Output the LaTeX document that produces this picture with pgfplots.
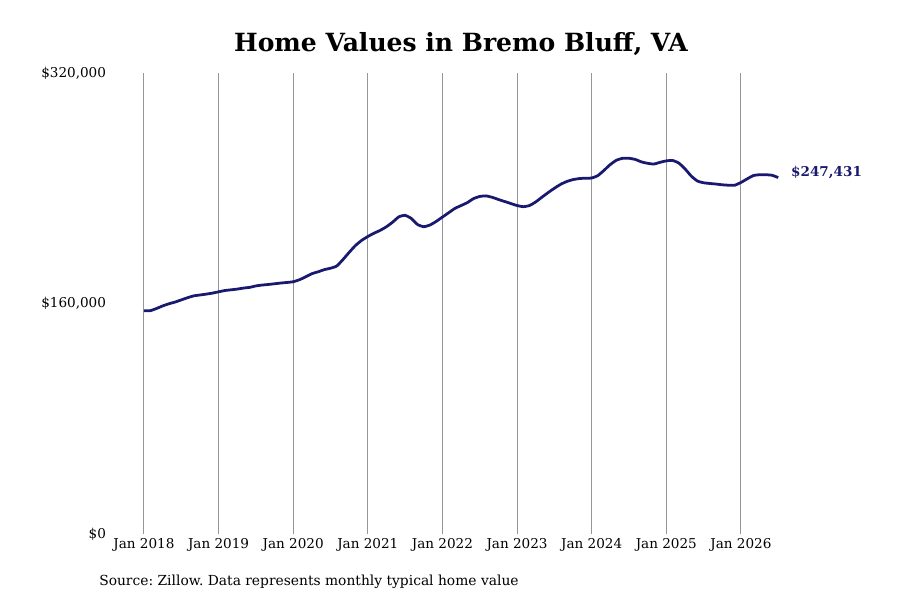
\documentclass[border=0pt]{standalone}
\usepackage{pgfplots}
\pgfplotsset{compat=1.18}
\usepackage{fontspec}
\setmainfont{DejaVu Serif}
\definecolor{navyline}{RGB}{25,25,112}
\definecolor{gridgray}{RGB}{150,150,150}

\begin{document}
\frenchspacing
\begin{tikzpicture}[x=1in,y=1in]
\path[use as bounding box] (0,0) rectangle (9,6);
\node[font=\fontsize{18.1}{21}\selectfont\bfseries] at (4.61,5.56) {Home Values in Bremo Bluff, VA};
\node[anchor=west,font=\fontsize{10}{12}\selectfont,inner sep=0pt] at (0.99,0.18) {Source: Zillow. Data represents monthly typical home value};
\begin{axis}[
  at={(1.15in,0.66in)},
  anchor=south west,
  scale only axis,
  width=6.85in,
  height=4.61in,
  xmin=-4.66, xmax=105.5,
  ymin=0, ymax=320000,
  scaled y ticks=false,
  axis line style={draw=none},
  tick style={draw=none},
  xmajorgrids,
  grid style={gridgray,line width=0.7pt},
  xtick={0,12,24,36,48,60,72,84,96},
  xticklabels={Jan 2018,Jan 2019,Jan 2020,Jan 2021,Jan 2022,Jan 2023,Jan 2024,Jan 2025,Jan 2026},
  ytick={0,160000,320000},
  yticklabels={{\$0},{\$160,000},{\$320,000}},
  tick label style={font=\fontsize{9.8}{12}\selectfont},
  yticklabel style={xshift=-3pt},
  clip=false,
]
\addplot[navyline, line width=2pt, smooth, tension=0.3] coordinates {
(0,155000) (1,155000) (2,156500) (3,158300) (4,159800) (5,161000) (6,162500) (7,164000)
(8,165300) (9,165900) (10,166500) (11,167200) (12,168100) (13,169000) (14,169500) (15,170000)
(16,170700) (17,171200) (18,172200) (19,172800) (20,173200) (21,173700) (22,174200) (23,174600)
(24,175100) (25,176500) (26,178500) (27,180700) (28,182000) (29,183500) (30,184500) (31,186000)
(32,190500) (33,195500) (34,200200) (35,203800) (36,206500) (37,208800) (38,210800) (39,213300)
(40,216500) (41,220200) (42,221200) (43,219000) (44,214800) (45,213300) (46,214500) (47,217000)
(48,220000) (49,223000) (50,226000) (51,228000) (52,230000) (53,232800) (54,234300) (55,234700)
(56,233700) (57,232200) (58,230800) (59,229400) (60,228000) (61,227200) (62,228000) (63,230500)
(64,233800) (65,237000) (66,240000) (67,242700) (68,244700) (69,246000) (70,246700) (71,247000)
(72,247100) (73,248800) (74,252500) (75,256500) (76,259500) (77,260800) (78,260800) (79,260000)
(80,258300) (81,257300) (82,256800) (83,258000) (84,259000) (85,259300) (86,257500) (87,253500)
(88,248500) (89,245000) (90,243800) (91,243300) (92,242900) (93,242400) (94,242100) (95,242100)
(96,244000) (97,246500) (98,248800) (99,249400) (100,249400) (101,249000) (102,247431)
} node[pos=1,anchor=west,xshift=5pt,yshift=3.6pt,text=navyline,font=\fontsize{9.8}{12}\selectfont\bfseries] {\$247,431};
\end{axis}
\end{tikzpicture}
\end{document}
